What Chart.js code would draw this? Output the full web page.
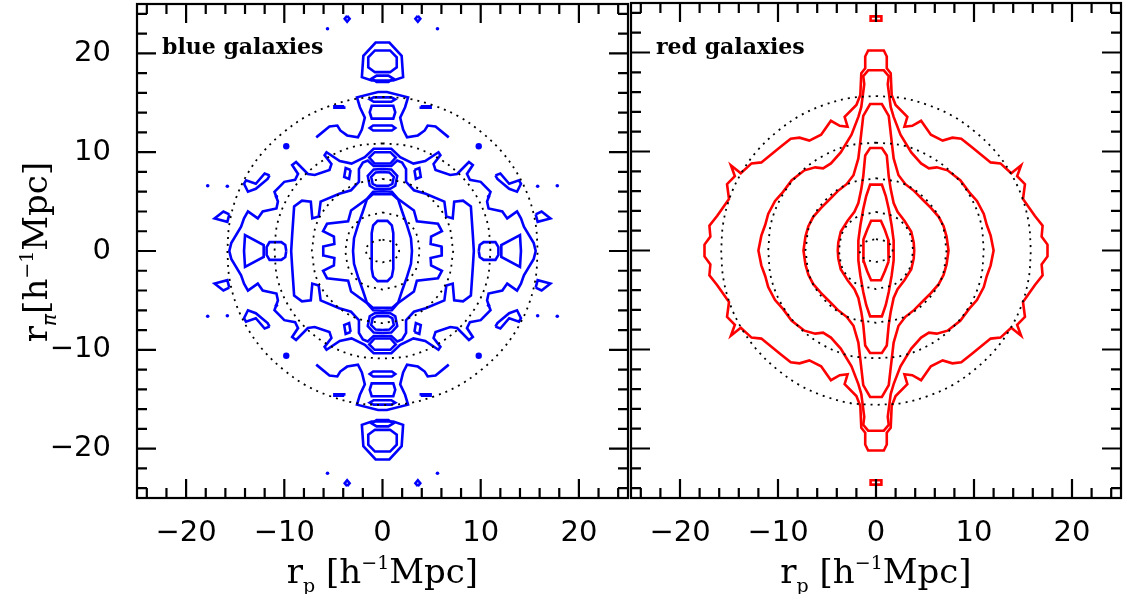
<!DOCTYPE html>
<html>
<head>
<meta charset="utf-8">
<script src="https://cdn.jsdelivr.net/npm/chart.js@4.4.0/dist/chart.umd.min.js"></script>
<style>
html,body{margin:0;padding:0;background:#fff;}
#wrap{position:relative;width:1124px;height:594px;overflow:hidden;}
#left{position:absolute;left:0;top:0;}
#right{position:absolute;left:620px;top:0;}
</style>
</head>
<body>
<div id="wrap">
<canvas id="left" width="632" height="594"></canvas>
<canvas id="right" width="504" height="594"></canvas>
</div>
<script>
// axis ticks (both panels span -25..25)
const tickVals = [-20, -10, 0, 10, 20];
const panelNames = ['blue galaxies', 'red galaxies'];

// all contours are read in the upper right quadrant (rp>=0, rpi>=0);
// the figure itself is reflected about both axes, so the kind says how to unfold it
// quad: from the rpi axis to the rp axis, half: on the rpi axis, side: on the rp axis
// open: unclosed line about the rpi axis, island: inside the quadrant

// dotted model contours
const modelRing1 = [[0,15.6],[2.7,15.4],[5.3,14.7],[7.8,13.6],[10.1,12.0],[12.1,10.1],[13.7,7.9],[14.9,5.4],[15.6,2.7],[15.8,0]];
const modelRing2 = [[0,10.9],[2.8,10.6],[5.5,9.5],[7.8,7.8],[9.6,5.5],[10.7,2.8],[11.0,0]];
const modelRing3 = [[0,7.3],[2.8,6.75],[5.1,5.15],[6.7,2.8],[7.2,0]];
const modelRing4 = [[0,3.9],[2.0,3.35],[3.35,1.95],[3.8,0]];
const modelRing5 = [[0,1.15],[0.9,0.95],[1.5,0.55],[1.7,0]];

// blue galaxies
const blueCore = [[0,3.05],[0.5,3.05],[0.95,2.6],[1.1,1.8],[1.1,0]];
const blueLens = [[0,5.75],[1.0,5.75],[1.6,5.2],[2.0,4.0],[2.5,2.6],[2.9,1.3],[3.0,0]];
const blueCross = [[0,6.05],[0.95,6.0],[1.6,5.25],[3.2,4.1],[3.5,3.0],[5.65,2.75],[6.05,2.0],[4.95,1.45],[4.9,0.7],[6.0,0.45],[6.05,0]];
const blueRing = [[0,8.6],[0.9,8.6],[1.5,9.15],[2.0,8.95],[2.4,8.3],[2.4,7.0],[3.2,6.15],[4.4,5.8],[6.3,5.0],[6.5,3.5],[7.15,3.3],[7.3,5.0],[8.2,5.1],[9.0,4.5],[9.2,1.6],[9.3,0]];
const blueOuter = [[0,10.35],[0.9,10.35],[1.8,9.5],[3.15,8.85],[4.35,9.1],[5.7,10.0],[5.9,9.7],[5.2,8.8],[5.4,8.2],[6.9,7.7],[7.6,7.8],[8.8,9.0],[9.2,8.7],[8.6,7.8],[8.9,7.2],[10.0,7.0],[11.0,6.0],[10.65,5.0],[10.8,4.3],[12.2,4.0],[12.7,3.3],[13.7,4.0],[14.1,3.3],[14.4,2.45],[15.4,0.8],[15.6,0]];
const blueHexTop = [[0,10.0],[0.8,10.0],[1.35,9.45],[0.8,8.85],[0,8.85]];
const blueHexLow = [[0,8.3],[0.9,8.25],[1.5,7.6],[1.3,6.6],[0.8,6.3],[0,6.3]];
const blueHexLowIn = [[0,8.0],[0.7,7.95],[1.15,7.5],[1.0,6.8],[0.6,6.6],[0,6.6]];
const blueTri = [[3.25,8.2],[3.75,8.4],[3.9,7.5],[3.4,7.3],[3.25,8.2]];
const blueCheck = [[11.5,7.65],[12.0,7.85],[12.9,6.8],[13.9,7.15],[14.1,6.8],[13.7,6.0],[12.9,6.3],[11.7,7.3],[11.5,7.65]];
const blueWedge = [[15.6,3.7],[16.2,4.0],[17.1,3.3],[15.8,2.95],[15.6,3.7]];
const blueHexSide = [[9.8,0],[9.9,0.6],[10.3,0.9],[11.5,0.9],[11.8,0.4],[11.8,0]];
const blueTrap = [[12.1,0],[12.1,0.6],[14.0,1.6],[14.1,0]];
const blueNeck = [[0,16.1],[0.45,16.1],[2.6,15.55],[2.3,14.55],[1.8,13.5],[2.1,12.3],[2.5,11.5],[3.6,11.7],[4.3,12.2],[4.6,12.7],[5.4,12.6],[6.75,11.5]];
const blueNeckOval = [[0,15.55],[0.9,15.55],[1.3,15.35],[0.9,15.1],[0,15.1]];
const blueNeckBox = [[0,14.7],[1.1,14.7],[1.3,14.05],[1.1,13.4],[0,13.4]];
const blueNeckOval2 = [[0,12.7],[0.95,12.7],[1.3,12.45],[0.95,12.2],[0,12.2]];
const blueCapOuter = [[0,21.1],[0.7,21.1],[1.95,19.75],[2.1,17.6],[1.1,17.25],[0,17.25]];
const blueCapInner = [[0,20.3],[0.77,20.3],[1.45,19.6],[1.45,18.6],[0.77,18.1],[0,18.1]];
const blueCapOval = [[0,17.75],[0.6,17.75],[1.1,17.45],[0.6,17.1],[0,17.1]];
const blueDash = [[3.9,14.65],[4.9,14.65],[4.9,14.5],[3.9,14.5],[3.9,14.65]];
const blueDiamond = [[3.6,23.8],[3.85,23.5],[3.6,23.2],[3.35,23.5],[3.6,23.8]];
const blueDotsSmall = [[5.6,22.5],[15.8,6.55],[17.8,6.6],[10.8,5.5]];
const blueDotsBig = [[9.8,10.6]];

// red galaxies
const red1 = [[0,20.2],[0.8,20.2],[1.1,19.6],[1.1,18.4],[1.5,17.9],[1.6,15.7],[2.0,14.7],[3.2,13.5],[2.9,12.5],[3.7,12.6],[4.6,13.1],[5.6,11.7],[6.8,11.1],[7.8,11.4],[8.7,11.3],[9.7,10.5],[11.7,8.9],[12.7,8.8],[13.8,7.8],[14.8,8.6],[14.4,7.5],[15.2,6.7],[15.0,5.2],[15.5,4.5],[16.2,3.5],[17.0,2.5],[16.9,1.4],[17.5,0.6],[17.5,0]];
const red2 = [[0,18.2],[0.8,18.2],[1.3,17.6],[1.2,16.8],[1.5,14.5],[1.8,13.5],[2.5,11.7],[3.6,9.9],[4.6,8.8],[5.4,8.3],[6.2,8.4],[7.3,8.1],[8.6,7.1],[9.5,5.9],[10.3,5.0],[11.0,3.7],[11.3,2.6],[11.7,1.5],[12.0,0]];
const red3 = [[0,14.8],[0.6,14.8],[1.3,13.6],[1.6,11.0],[1.8,9.3],[2.3,7.6],[3.0,6.7],[3.9,6.0],[4.9,5.0],[5.6,4.3],[6.4,3.4],[6.9,2.45],[7.2,1.4],[7.4,0]];
const red4 = [[0,10.35],[0.6,10.35],[1.1,9.6],[1.3,7.5],[1.5,6.2],[1.8,4.8],[2.2,3.9],[2.9,3.0],[3.6,1.9],[3.85,0.8],[3.9,0]];
const red5 = [[0,6.65],[0.6,6.65],[1.0,5.5],[1.3,4.2],[1.6,2.5],[1.8,1.0],[1.8,0]];
const red6 = [[0,3.0],[0.5,3.0],[0.9,2.1],[1.25,1.1],[1.3,0]];
const redCap = [[0,23.65],[0.55,23.65],[0.55,23.2],[0,23.2]];

const modelRings = [modelRing1, modelRing2, modelRing3, modelRing4, modelRing5];
const blueShapes = [
  [blueCore, 'quad'], [blueLens, 'quad'], [blueCross, 'quad'], [blueRing, 'quad'], [blueOuter, 'quad'],
  [blueHexTop, 'half'], [blueHexLow, 'half'], [blueHexLowIn, 'half'],
  [blueNeck, 'open'], [blueNeckOval, 'half'], [blueNeckBox, 'half'], [blueNeckOval2, 'half'],
  [blueCapOuter, 'half'], [blueCapInner, 'half'], [blueCapOval, 'half'],
  [blueHexSide, 'side'], [blueTrap, 'side'],
  [blueTri, 'island'], [blueCheck, 'island'], [blueWedge, 'island'], [blueDash, 'island'], [blueDiamond, 'island']
];
const redShapes = [
  [red1, 'quad'], [red2, 'quad'], [red3, 'quad'], [red4, 'quad'], [red5, 'quad'], [red6, 'quad'], [redCap, 'half']
];

function unfold(pts, kind) {
  const f = (sx, sy, rev) => {
    const a = pts.map(p => ({x: p[0] * sx, y: p[1] * sy}));
    return rev ? a.reverse() : a;
  };
  if (kind === 'quad') return [[...f(1, 1), ...f(1, -1, true), ...f(-1, -1), ...f(-1, 1, true)]];
  if (kind === 'half') return [[...f(1, 1), ...f(-1, 1, true)], [...f(1, -1), ...f(-1, -1, true)]];
  if (kind === 'side') return [[...f(1, 1), ...f(1, -1, true)], [...f(-1, 1), ...f(-1, -1, true)]];
  if (kind === 'open') return [[...f(-1, 1, true), ...f(1, 1)], [...f(-1, -1, true), ...f(1, -1)]];
  return [f(1, 1), f(-1, 1), f(1, -1), f(-1, -1)];
}

function lineSets(shapes, color) {
  const out = [];
  shapes.forEach(([pts, kind]) => {
    unfold(pts, kind).forEach(d => out.push({
      data: d, showLine: true, borderColor: color, borderWidth: 2.6,
      pointRadius: 0, fill: false, tension: 0, borderJoinStyle: 'miter'
    }));
  });
  return out;
}

function modelSets() {
  return modelRings.map(r => ({
    data: unfold(r, 'quad')[0], showLine: true, borderColor: '#000', borderWidth: 1.8,
    borderDash: [2, 5], pointRadius: 0, fill: false, tension: 0.35
  }));
}

function dotSet(pts, color, r) {
  const d = [];
  pts.forEach(p => unfold([p], 'island').forEach(c => d.push(c[0])));
  return {data: d, showLine: false, pointRadius: r, pointBackgroundColor: color, pointBorderWidth: 0};
}

const fmt = v => v < 0 ? '\u2212' + Math.abs(v) : String(v);

function drawAxisTitle(ctx, cx, cy, sub, gap, vertical) {
  const big = '34px "DejaVu Serif"', small = '19px "DejaVu Serif"', greek = 'italic 20px "DejaVu Sans"';
  const parts = [['r', big, 0], [sub, sub === 'p' ? small : greek, 9], [gap, big, 0], ['[h', big, 0], ['\u22121', small, -14], ['Mpc]', big, 0]];
  let w = 0;
  parts.forEach(p => { ctx.font = p[1]; w += ctx.measureText(p[0]).width; });
  ctx.save();
  ctx.translate(cx, cy);
  if (vertical) ctx.rotate(-Math.PI / 2);
  ctx.fillStyle = '#000';
  ctx.textBaseline = 'alphabetic';
  let x = -w / 2;
  parts.forEach(p => {
    ctx.font = p[1];
    ctx.fillText(p[0], x, 11 + p[2]);
    x += ctx.measureText(p[0]).width;
  });
  ctx.restore();
}

const framePlugin = {
  id: 'frame',
  afterDraw(chart) {
    const {ctx, chartArea: a, scales: {x, y}} = chart;
    const o = chart.options.plugins.frame;
    ctx.save();
    ctx.strokeStyle = '#000';
    ctx.lineWidth = 2.2;
    ctx.strokeRect(a.left, a.top, a.right - a.left, a.bottom - a.top);
    ctx.beginPath();
    for (let v = -24; v <= 24; v += 2) {
      const len = v % 10 === 0 ? 19 : 10;
      const px = x.getPixelForValue(v), py = y.getPixelForValue(v);
      ctx.moveTo(px, a.bottom); ctx.lineTo(px, a.bottom - len);
      ctx.moveTo(px, a.top); ctx.lineTo(px, a.top + len);
      ctx.moveTo(a.left, py); ctx.lineTo(a.left + len, py);
      ctx.moveTo(a.right, py); ctx.lineTo(a.right - len, py);
    }
    ctx.stroke();
    ctx.fillStyle = '#000';
    ctx.font = 'bold 22px "DejaVu Serif"';
    ctx.textBaseline = 'alphabetic';
    ctx.fillText(o.label, a.left + 25, 54);
    drawAxisTitle(ctx, (a.left + a.right) / 2, 572, 'p', ' ', false);
    if (o.yTitle) drawAxisTitle(ctx, 36, 252, '\u03c0', '', true);
    ctx.restore();
  }
};

function noPad(s) {
  s.paddingLeft = 0; s.paddingRight = 0; s.paddingTop = 0; s.paddingBottom = 0;
}

function makeChart(id, datasets, label, showY, pad) {
  return new Chart(document.getElementById(id), {
    type: 'scatter',
    data: {datasets: datasets},
    options: {
      responsive: false,
      maintainAspectRatio: false,
      animation: false,
      layout: {padding: pad},
      plugins: {legend: {display: false}, tooltip: {enabled: false}, frame: {label: label, yTitle: showY}},
      scales: {
        x: {
          type: 'linear', min: -25, max: 25,
          grid: {display: false}, border: {display: false},
          afterBuildTicks: s => { s.ticks = tickVals.map(v => ({value: v})); },
          afterFit: s => { s.height = 96; noPad(s); },
          ticks: {callback: fmt, autoSkip: false, maxRotation: 0, color: '#000', padding: 10,
            font: {family: '"DejaVu Sans"', size: 29}}
        },
        y: {
          type: 'linear', min: -25, max: 25, display: showY,
          grid: {display: false}, border: {display: false},
          afterBuildTicks: s => { s.ticks = tickVals.map(v => ({value: v})); },
          afterFit: s => { s.width = showY ? 137 : 0; noPad(s); },
          ticks: {callback: fmt, autoSkip: false, color: '#000', padding: 18,
            font: {family: '"DejaVu Sans"', size: 29}}
        }
      }
    },
    plugins: [framePlugin]
  });
}

const leftSets = [...modelSets(), ...lineSets(blueShapes, '#0000ff'),
  dotSet(blueDotsSmall, '#0000ff', 1.8), dotSet(blueDotsBig, '#0000ff', 3.2)];
const rightSets = [...modelSets(), ...lineSets(redShapes, '#ff0000')];

makeChart('left', leftSets, panelNames[0], true, {left: 0, top: 3, right: 3, bottom: 0});
makeChart('right', rightSets, panelNames[1], false, {left: 11, top: 3, right: 3, bottom: 0});
</script>
</body>
</html>
